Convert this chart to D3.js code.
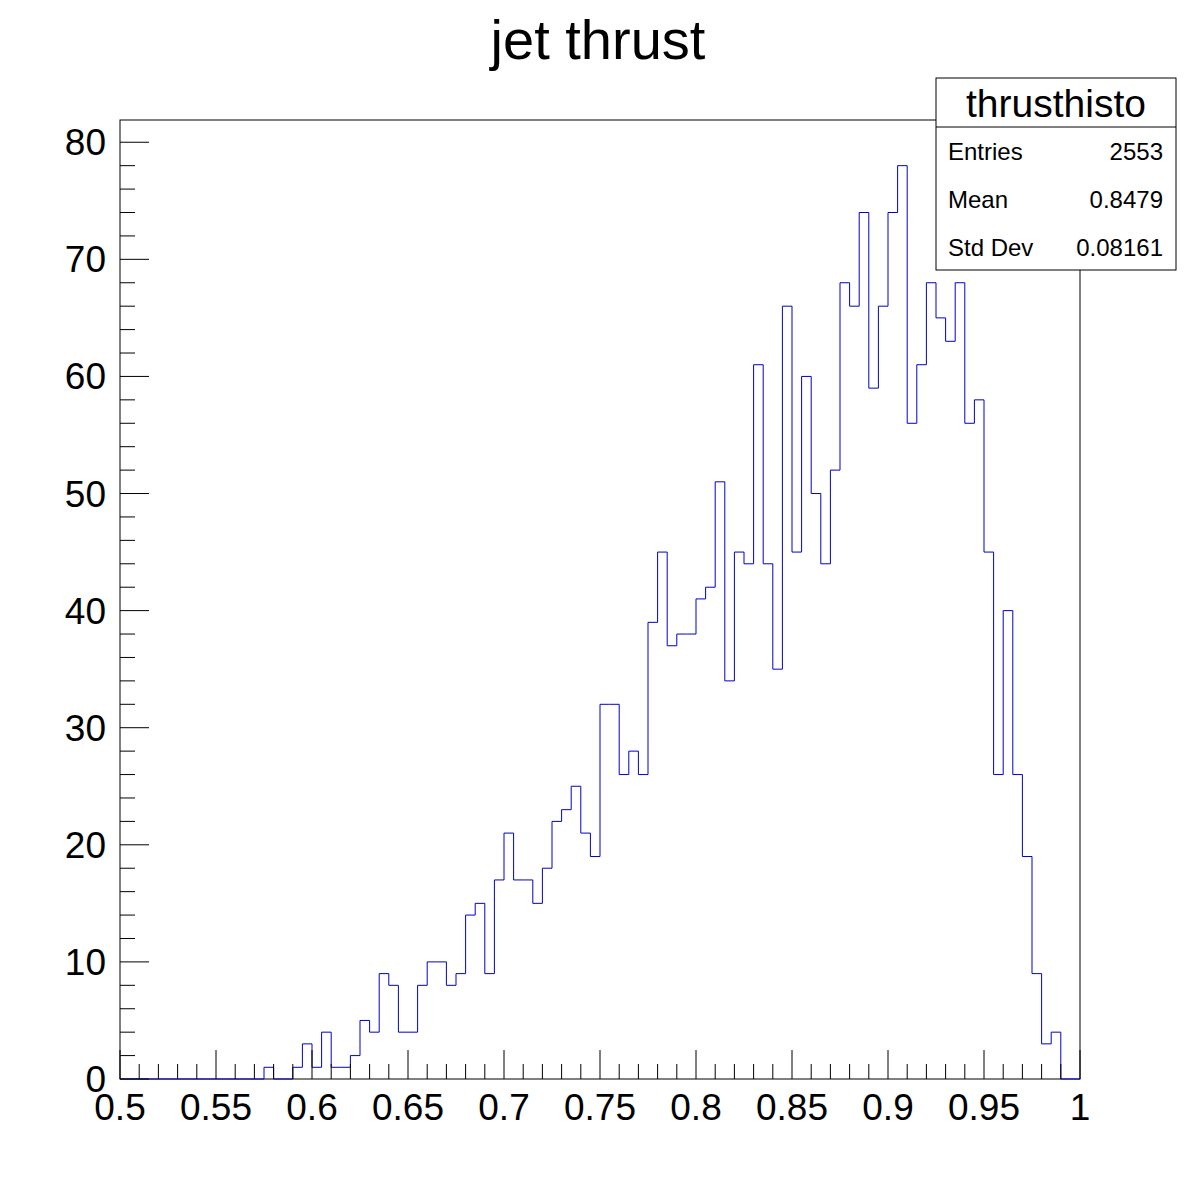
<!DOCTYPE html>
<html><head><meta charset="utf-8">
<script src="https://cdn.jsdelivr.net/npm/d3@7"></script>
<style>body{margin:0;background:#fff}svg{font-family:"Liberation Sans",Arial,sans-serif}</style>
</head><body><div id="chart"></div>
<script>
const binLow = 0.5, binWidth = 0.005;
const counts = [0,0,0,0,0,0,0,0,0,0, 0,0,0,0,0,1,0,0,1,3,
  1,4,1,1,2,5,4,9,8,4, 4,8,10,10,8,9,14,15,9,17,
  21,17,17,15,18,22,23,25,21,19, 32,32,26,28,26,39,45,37,38,38,
  41,42,51,34,45,44,61,44,35,66, 45,60,50,44,52,68,66,74,59,66,
  74,78,56,61,68,65,63,68,56,58, 45,26,40,26,19,9,3,4,0,0];
const xTicks = [0.5,0.55,0.6,0.65,0.7,0.75,0.8,0.85,0.9,0.95,1];
const yTicks = [0,10,20,30,40,50,60,70,80];
const stats = [["Entries","2553"],["Mean","0.8479"],["Std Dev","0.08161"]];

const W = 1200, H = 1200, L = 120, R = 1080, T = 120, B = 1079;
const x = d3.scaleLinear().domain([0.5,1]).range([L,R]);
const y = d3.scaleLinear().domain([0, d3.max(counts)*1.05]).range([B,T]);

const svg = d3.select("#chart").append("svg").attr("width",W).attr("height",H);
svg.append("rect").attr("x",L).attr("y",T).attr("width",R-L).attr("height",B-T)
  .attr("fill","none").attr("stroke","#000");

// histogram step line
const pts = [[x(binLow), y(0)]];
counts.forEach((c,i)=>{
  pts.push([x(binLow+i*binWidth), y(c)]);
  pts.push([x(binLow+(i+1)*binWidth), y(c)]);
});
pts.push([x(binLow+counts.length*binWidth), y(0)]);
svg.append("path").attr("d", d3.line()(pts)).attr("fill","none").attr("stroke","#0000cc").attr("stroke-width",1);

// x axis
const xMinor = d3.range(0,51).map(i=>0.5+i*0.01);
svg.append("g").selectAll("line").data(xMinor).join("line")
  .attr("x1",d=>x(d)).attr("x2",d=>x(d)).attr("y1",B)
  .attr("y2",(d,i)=>i%5===0?B-29:B-15).attr("stroke","#000");
svg.append("g").selectAll("text").data(xTicks).join("text")
  .attr("x",d=>x(d)).attr("y",1120).attr("text-anchor","middle")
  .attr("font-size",37).text(d=>d3.format("")(d));

// y axis
const yMinor = d3.range(0,41).map(i=>i*2);
svg.append("g").selectAll("line").data(yMinor).join("line")
  .attr("x1",L).attr("x2",(d,i)=>i%5===0?L+29:L+15)
  .attr("y1",d=>y(d)).attr("y2",d=>y(d)).attr("stroke","#000");
svg.append("g").selectAll("text").data(yTicks).join("text")
  .attr("x",106).attr("y",d=>y(d)+13).attr("text-anchor","end")
  .attr("font-size",37).text(d=>d);

// title
svg.append("text").attr("x",598).attr("y",59).attr("text-anchor","middle")
  .attr("font-size",56).text("jet thrust");

// stats box
const bx=936, by=78, bw=240, bh=192;
svg.append("rect").attr("x",bx).attr("y",by).attr("width",bw).attr("height",bh)
  .attr("fill","#fff").attr("stroke","#000");
svg.append("line").attr("x1",bx).attr("x2",bx+bw).attr("y1",127).attr("y2",127).attr("stroke","#000");
svg.append("text").attr("x",bx+bw/2).attr("y",117).attr("text-anchor","middle")
  .attr("font-size",39).text("thrusthisto");
stats.forEach(([k,v],i)=>{
  const yy = 160 + i*48;
  svg.append("text").attr("x",948).attr("y",yy).attr("font-size",24).text(k);
  svg.append("text").attr("x",1163).attr("y",yy).attr("text-anchor","end").attr("font-size",24).text(v);
});
</script></body></html>
